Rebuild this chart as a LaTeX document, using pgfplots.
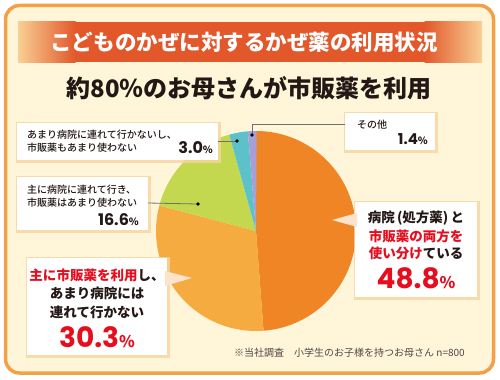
\documentclass[border=0pt]{standalone}
\usepackage{pgfplots}
\pgfplotsset{compat=1.18}
\usepackage{pgfplotstable}
\usepackage{fontspec}
\setmainfont{Noto Sans CJK JP}
\newfontfamily\jpmed{Noto Sans CJK JP}[UprightFont={* Medium}]
\newfontfamily\numfont{Poppins}
\definecolor{pie0}{HTML}{F08526}
\definecolor{pie1}{HTML}{F5AB3F}
\definecolor{pie2}{HTML}{C3D84F}
\definecolor{pie3}{HTML}{5CC1C9}
\definecolor{pie4}{HTML}{A89FD5}
\definecolor{panel}{HTML}{FFF6DA}
\definecolor{panelborder}{HTML}{F3A048}
\definecolor{bannerMid}{HTML}{E2582B}
\definecolor{bannerEdge}{HTML}{F9CF94}
\definecolor{redtxt}{HTML}{E60E1E}
\definecolor{txt}{HTML}{231815}
\definecolor{boxshadow}{HTML}{F8D3A0}
\definecolor{pointer}{HTML}{FCE3CC}
\definecolor{leader}{HTML}{707070}

\pgfplotstableread{
label value
Both 48.8
OTC 30.3
Hospital 16.6
Neither 3.0
Other 1.4
}\piedata

\newcommand\fs[1]{\fontsize{#1bp}{#1bp}\selectfont}
\newcommand\lbox[4]{%
  \fill[boxshadow,opacity=0.8] (axis cs:#1-1.5,#2-1.5) rectangle (axis cs:#3+3,#4+3);
  \fill[white] (axis cs:#1,#2) rectangle (axis cs:#3,#4);
}

\begin{document}
\begin{tikzpicture}
\begin{axis}[
  width=500bp, height=379bp, scale only axis,
  xmin=0, xmax=500, ymin=0, ymax=379, y dir=reverse,
  hide axis, clip=false,
]
% background
\fill[white] (axis cs:0,0) rectangle (axis cs:500,379);
\draw[panelborder, line width=3.5bp, fill=panel, rounded corners=14bp] (axis cs:5.5,5.5) rectangle (axis cs:493.5,373);
% banner
\shade[left color=bannerEdge, right color=bannerMid] (axis cs:18,22) rectangle (axis cs:75.5,62);
\fill[bannerMid] (axis cs:75,22) rectangle (axis cs:425,62);
\shade[left color=bannerMid, right color=bannerEdge] (axis cs:424.5,22) rectangle (axis cs:482,62);
\node[text=white, font=\fs{21.5}\bfseries, inner sep=0] at (axis cs:244,42) {こどものかぜに対するかぜ薬の利用状況};
\node[text=txt, font=\fs{24}\bfseries, inner sep=0] at (axis cs:249,88) {約80％のお母さんが市販薬を利用};

% pie
\def\cum{0}
\pgfplotsforeachungrouped \i in {0,...,4}{%
  \pgfplotstablegetelem{\i}{value}\of\piedata
  \pgfmathsetmacro\a{90-3.6*\cum}%
  \pgfmathsetmacro\cum{\cum+\pgfplotsretval}%
  \pgfmathsetmacro\b{90-3.6*\cum}%
  \edef\temp{\noexpand\fill[pie\i] (axis cs:256,231) -- ++(\a:100bp) arc[start angle=\a, end angle=\b, radius=100bp] -- cycle;}%
  \temp
}

% box 1 (3.0%)
\lbox{17}{123}{218}{160}
\draw[leader, line width=0.8bp] (axis cs:218,141) -- (axis cs:237,141);
\fill[black] (axis cs:237,141) circle[radius=1.8bp];
\node[text=txt, font=\jpmed\fs{10}, anchor=west, inner sep=0] at (axis cs:27,135) {あまり病院に連れて行かないし、};
\node[text=txt, font=\jpmed\fs{10}, anchor=west, inner sep=0] at (axis cs:27,148) {市販薬もあまり使わない};
\node[text=txt, anchor=base east, inner sep=0] at (axis cs:213,153) {{\numfont\bfseries\fs{16}3.0}{\fs{10}\bfseries\%}};

% box 2 (16.6%)
\lbox{17}{177}{148}{230}
\draw[leader, line width=0.8bp] (axis cs:148,203) -- (axis cs:198,204);
\fill[black] (axis cs:198,204) circle[radius=1.8bp];
\node[text=txt, font=\jpmed\fs{10}, anchor=west, inner sep=0] at (axis cs:27,190) {主に病院に連れて行き、};
\node[text=txt, font=\jpmed\fs{10}, anchor=west, inner sep=0] at (axis cs:27,203) {市販薬はあまり使わない};
\node[text=txt, anchor=base east, inner sep=0] at (axis cs:139,225) {{\numfont\bfseries\fs{16}16.6}{\fs{10}\bfseries\%}};

% box 4 (1.4%)
\lbox{345}{113}{435}{150}
\draw[leader, line width=0.8bp] (axis cs:345,124) -- (axis cs:252,124) -- (axis cs:252,135);
\fill[black] (axis cs:252,135) circle[radius=1.8bp];
\node[text=txt, font=\jpmed\fs{10}, anchor=west, inner sep=0] at (axis cs:357,125) {その他};
\node[text=txt, anchor=base east, inner sep=0] at (axis cs:428,144) {{\numfont\bfseries\fs{15}1.4}{\fs{10}\bfseries\%}};

% box 3 (30.3%)
\lbox{27}{258}{167}{355}
\fill[pointer] (axis cs:165,271) -- (axis cs:192,278) -- (axis cs:165,286) -- cycle;
\node[font=\fs{13.5}\bfseries, inner sep=0] at (axis cs:97,275) {\textcolor{redtxt}{主に市販薬を利用}\textcolor{txt}{し、}};
\node[text=txt, font=\fs{13.5}\bfseries, inner sep=0] at (axis cs:97,293) {あまり病院には};
\node[text=txt, font=\fs{13.5}\bfseries, inner sep=0] at (axis cs:97,312) {連れて行かない};
\node[text=redtxt, anchor=base, inner sep=0] at (axis cs:97,347) {{\numfont\bfseries\fs{28}30.3}{\fs{16}\bfseries\%}};

% box 5 (48.8%)
\lbox{355}{202}{477}{297}
\fill[pointer] (axis cs:357,213) -- (axis cs:332,220) -- (axis cs:357,227) -- cycle;
\node[text=txt, font=\fs{13.5}\bfseries, inner sep=0] at (axis cs:416,218) {病院\,(処方薬)\,と};
\node[text=redtxt, font=\fs{13.5}\bfseries, inner sep=0] at (axis cs:416,236) {市販薬の両方を};
\node[font=\fs{13.5}\bfseries, inner sep=0] at (axis cs:416,253) {\textcolor{redtxt}{使い分け}\textcolor{txt}{ている}};
\node[text=redtxt, anchor=base, inner sep=0] at (axis cs:416,288) {{\numfont\bfseries\fs{28}48.8}{\fs{16}\bfseries\%}};

% footnote
\node[text=txt!80, font=\fs{10}, anchor=west, inner sep=0] at (axis cs:234,353) {※当社調査　小学生のお子様を持つお母さん n=800};
\end{axis}
\end{tikzpicture}
\end{document}
